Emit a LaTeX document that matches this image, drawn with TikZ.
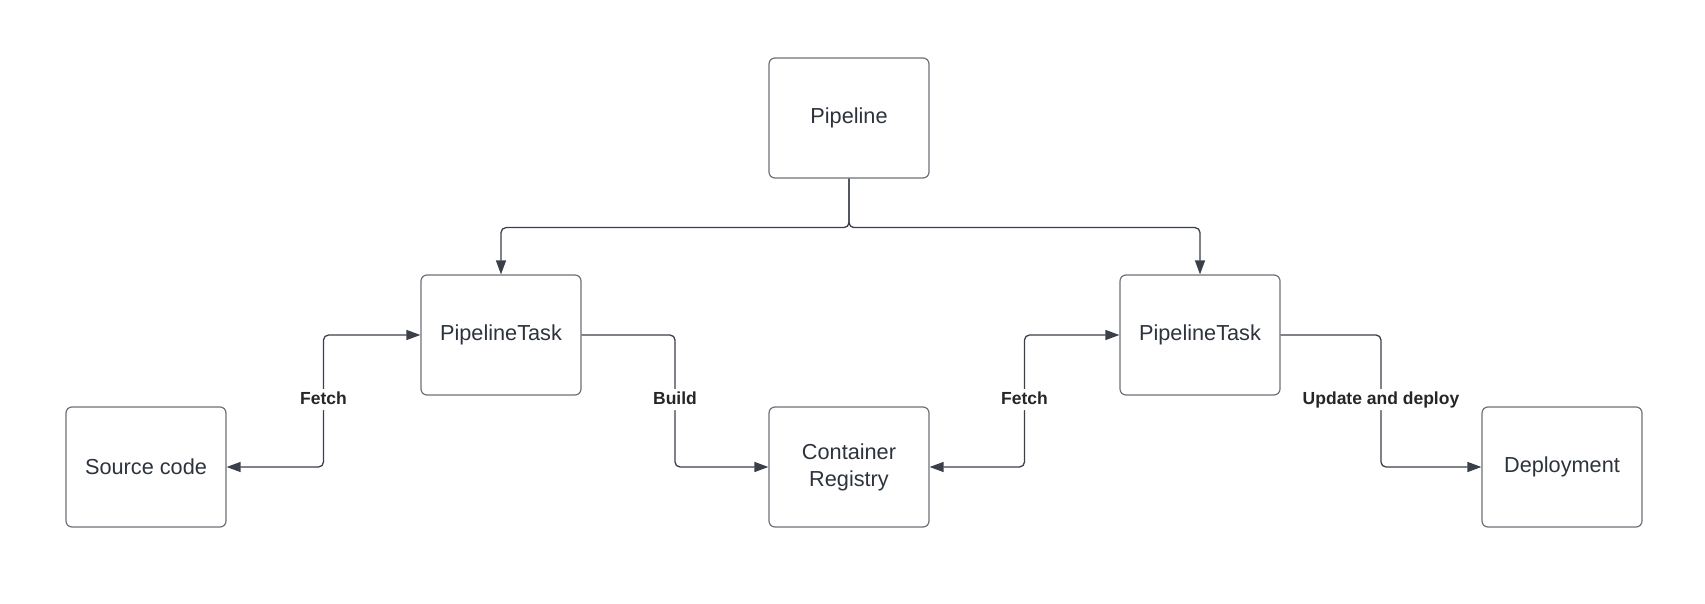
\documentclass[tikz,border=0pt]{standalone}
\usepackage{fontspec}
\setmainfont{Liberation Sans}
\usetikzlibrary{arrows.meta,calc}
\definecolor{boxColor}{RGB}{108,113,120}
\definecolor{lineColor}{RGB}{58,64,74}
\definecolor{textColor}{RGB}{45,51,61}
\tikzstyle{diagram} = [x = 1pt, y = -1pt, >={Triangle[length=14pt,width=10pt]}]
\tikzstyle{boxStyle} = [draw=boxColor, line width=1.2pt, rounded corners = 6pt, minimum width=160pt, minimum height=120pt, inner sep=0pt, align=center, text=textColor, font=\fontsize{21.7}{27}\selectfont]
\tikzstyle{linkStyle} = [color=lineColor, line width=1.3pt, rounded corners = 5pt]
\tikzstyle{linkText} = [fill=white, text=black!85, inner sep=2pt, text height=13pt, text depth=4pt, yshift=1.5pt, font=\bfseries\fontsize{17.5}{20}\selectfont]
\newcommand{\midX}[2]{($(#1.east)!.5!(#2.west)$)}
\begin{document}
\begin{tikzpicture}[diagram]
  \useasboundingbox (0,0) rectangle (1705,604);
  % boxes
  \node [boxStyle] (pipe)  at (849,118)  {Pipeline};
  \node [boxStyle] (taskL) at (501,335)  {PipelineTask};
  \node [boxStyle] (taskR) at (1200,335) {PipelineTask};
  \node [boxStyle] (src)   at (146,467)  {Source code};
  \node [boxStyle] (reg)   at (849,467)  {Container\\Registry};
  \node [boxStyle] (dep)   at (1562,467) {Deployment};
  % pipeline to tasks
  \draw [linkStyle, ->] (pipe.south) -- ++(0,49) -| (taskL.north);
  \draw [linkStyle, ->] (pipe.south) -- ++(0,49) -| (taskR.north);
  % fetch, build, deploy
  \draw [linkStyle, <->] (src.east) -| \midX{src}{taskL} node [linkText] {Fetch} |- (taskL.west);
  \draw [linkStyle, ->] (taskL.east) -| \midX{taskL}{reg} node [linkText] {Build} |- (reg.west);
  \draw [linkStyle, <->] (reg.east) -| \midX{reg}{taskR} node [linkText] {Fetch} |- (taskR.west);
  \draw [linkStyle, ->] (taskR.east) -| \midX{taskR}{dep} node [linkText] {Update and deploy} |- (dep.west);
\end{tikzpicture}
\end{document}
